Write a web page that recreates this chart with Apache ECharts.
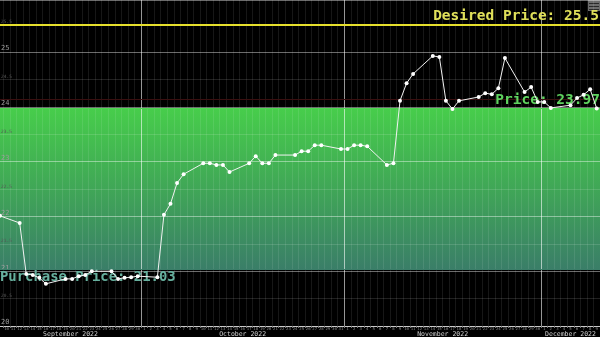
<!DOCTYPE html>
<html>
<head>
<meta charset="utf-8">
<script src="https://cdn.jsdelivr.net/npm/echarts@6/dist/echarts.min.js"></script>
<style>html,body{margin:0;padding:0;background:#000;}#chart{width:600px;height:337px;}</style>
</head>
<body>
<div id="chart"></div>
<script>
// ---- data ----
const dates = [
  '2022-09-09','2022-09-12','2022-09-13','2022-09-14','2022-09-15','2022-09-16',
  '2022-09-19','2022-09-20','2022-09-21','2022-09-22','2022-09-23',
  '2022-09-26','2022-09-27','2022-09-28','2022-09-29','2022-09-30',
  '2022-10-03','2022-10-04','2022-10-05','2022-10-06','2022-10-07',
  '2022-10-10','2022-10-11','2022-10-12','2022-10-13','2022-10-14',
  '2022-10-17','2022-10-18','2022-10-19','2022-10-20','2022-10-21',
  '2022-10-24','2022-10-25','2022-10-26','2022-10-27','2022-10-28',
  '2022-10-31','2022-11-01','2022-11-02','2022-11-03','2022-11-04',
  '2022-11-07','2022-11-08','2022-11-09','2022-11-10','2022-11-11',
  '2022-11-14','2022-11-15','2022-11-16','2022-11-17','2022-11-18',
  '2022-11-21','2022-11-22','2022-11-23','2022-11-24','2022-11-25',
  '2022-11-28','2022-11-29','2022-11-30','2022-12-01','2022-12-02',
  '2022-12-05','2022-12-06','2022-12-07','2022-12-08','2022-12-09'
];
const prices = [
  22.01,21.88,20.95,20.93,20.88,20.77,
  20.86,20.86,20.91,20.93,21.00,
  21.00,20.86,20.88,20.89,20.91,
  20.89,22.03,22.23,22.61,22.77,
  22.97,22.97,22.94,22.94,22.81,
  22.97,23.10,22.97,22.97,23.12,
  23.12,23.19,23.19,23.30,23.30,
  23.23,23.23,23.30,23.30,23.28,
  22.94,22.97,24.11,24.43,24.60,
  24.93,24.91,24.11,23.96,24.11,
  24.18,24.25,24.23,24.34,24.89,
  24.27,24.36,24.09,24.09,23.98,
  24.03,24.16,24.22,24.32,23.97
];
const desiredPrice = 25.5;
const currentPrice = 23.97;
const purchasePrice = 21.03;
const monthLabels = ['September 2022','October 2022','November 2022','December 2022'];
const yMin = 20, yMax = 25.95, yStep = 0.5;

// ---- helpers ----
const mono = '"DejaVu Sans Mono", "Liberation Mono", monospace';
function toTs(s){ const p = s.split('-').map(Number); return new Date(p[0], p[1]-1, p[2], 12).getTime(); }
const xMin = new Date(2022, 8, 9, 12).getTime();
const xMax = new Date(2022, 11, 10, 0).getTime();

const midnights = [], noons = [];
for (let d = new Date(2022, 8, 10); d.getTime() < xMax; d.setDate(d.getDate() + 1)) {
  midnights.push(d.getTime());
  noons.push(new Date(d.getFullYear(), d.getMonth(), d.getDate(), 12).getTime());
}
const monthStarts = [new Date(2022, 9, 1).getTime(), new Date(2022, 10, 1).getTime(), new Date(2022, 11, 1).getTime()];
const spanEdges = [xMin].concat(monthStarts).concat([xMax]);
const monthMids = [];
for (let i = 0; i < spanEdges.length - 1; i++) monthMids.push((spanEdges[i] + spanEdges[i+1]) / 2);

const seriesData = dates.map((d, i) => [toTs(d), prices[i]]);

const chart = echarts.init(document.getElementById('chart'), null, {renderer: 'canvas'});
const option = {
  backgroundColor: '#000',
  animation: false,
  grid: {left: 0, right: 0, top: 0, bottom: 11, containLabel: false, outerBoundsMode: 'none'},
  xAxis: [
    {
      type: 'value', min: xMin, max: xMax, position: 'bottom', z: 3, scale: true,
      axisLine: {show: true, lineStyle: {color: '#c8c8c8', width: 1}},
      axisTick: {show: true, customValues: midnights, length: 2, lineStyle: {color: '#777'}},
      axisLabel: {show: true, customValues: noons, hideOverlap: false,
        formatter: v => String(new Date(v).getDate()),
        fontSize: 4, color: '#8a8a8a', margin: 1, fontFamily: mono},
      splitLine: {show: false}
    },
    {
      type: 'value', min: xMin, max: xMax, position: 'bottom', scale: true,
      axisLine: {show: false}, axisTick: {show: false}, splitLine: {show: false},
      axisLabel: {show: true, customValues: monthMids, hideOverlap: false,
        formatter: v => { let best = 0; monthMids.forEach((m, i) => { if (Math.abs(m - v) < Math.abs(monthMids[best] - v)) best = i; }); return monthLabels[best]; },
        fontSize: 6.5, color: '#cfcfcf', margin: 5, fontFamily: mono}
    }
  ],
  yAxis: {
    type: 'value', min: yMin, max: yMax, interval: yStep, position: 'left', z: 2,
    axisLine: {show: false}, axisTick: {show: false},
    axisLabel: {
      inside: true, margin: 1, verticalAlign: 'bottom', showMaxLabel: false,
      formatter: v => (Math.abs(v - Math.round(v)) < 1e-6 ? '{a|' + v + '}' : '{b|' + v + '}'),
      rich: {a: {fontSize: 7, color: '#9a9a9a', fontFamily: mono}, b: {fontSize: 4.5, color: '#555', fontFamily: mono}}
    },
    splitLine: {show: true, lineStyle: {color: ['rgba(255,255,255,0.42)', 'rgba(255,255,255,0.13)'], width: 1}}
  },
  series: [
    {
      name: 'band', type: 'line', data: [], z: 1, silent: true,
      markArea: {
        silent: true,
        data: [
          [{yAxis: purchasePrice, itemStyle: {color: new echarts.graphic.LinearGradient(0, 0, 0, 1, [
              {offset: 0, color: '#47cd4b'}, {offset: 0.5, color: '#40a657'}, {offset: 1, color: '#3a7e68'}])}},
           {yAxis: currentPrice}]
        ]
      }
    },
    {
      name: 'vgrid', type: 'line', data: [], z: 2.5, silent: true,
      markLine: {
        silent: true, symbol: 'none', label: {show: false}, animation: false,
        data: midnights.map(t => ({xAxis: t, lineStyle: {color: 'rgba(255,255,255,0.09)', width: 1, type: 'solid'}}))
          .concat(monthStarts.map(t => ({xAxis: t, lineStyle: {color: 'rgba(255,255,255,0.55)', width: 1, type: 'solid'}})))
          .concat([{yAxis: 24.13, lineStyle: {color: '#3a0f10', width: 1, type: 'solid'}}])
      }
    },
    {
      name: 'refs', type: 'line', data: [], z: 4, silent: true,
      markLine: {
        silent: true, symbol: 'none', animation: false,
        data: [
          {yAxis: desiredPrice, lineStyle: {color: '#e6df2c', width: 2, type: 'solid'},
           label: {show: true, position: 'insideEndTop', distance: [1, 1], formatter: 'Desired Price: ' + desiredPrice,
             color: '#e0e05a', fontSize: 14.5, fontFamily: mono, fontWeight: 'bold'}},
          {yAxis: currentPrice, lineStyle: {color: '#4fd453', width: 1, type: 'solid'},
           label: {show: true, position: 'insideEndTop', distance: [0, 1], formatter: 'Price: ' + currentPrice,
             color: '#5fd35f', fontSize: 14.5, fontFamily: mono, fontWeight: 'bold'}},
          {yAxis: purchasePrice, lineStyle: {color: '#3a7e68', width: 1, type: 'solid'},
           label: {show: true, position: 'insideStartBottom', distance: [0, 1], formatter: 'Purchase Price: ' + purchasePrice,
             color: '#66b09e', fontSize: 13.9, fontFamily: mono, fontWeight: 'bold'}}
        ]
      }
    },
    {
      name: 'price', type: 'line', data: seriesData, z: 5,
      symbol: 'circle', symbolSize: 4, showAllSymbol: true,
      lineStyle: {color: '#f2f2f2', width: 1},
      itemStyle: {color: '#ffffff'}
    }
  ],
  graphic: [
    {type: 'group', right: 0, top: 0, children: [
      {type: 'rect', shape: {x: 0, y: 0, width: 12, height: 11}, style: {fill: '#6c6c6c'}},
      {type: 'rect', shape: {x: 1, y: 3, width: 10, height: 1}, style: {fill: '#2a2a2a'}},
      {type: 'rect', shape: {x: 1, y: 6, width: 10, height: 1}, style: {fill: '#2a2a2a'}},
      {type: 'rect', shape: {x: 1, y: 9, width: 10, height: 1}, style: {fill: '#2a2a2a'}}
    ]}
  ]
};
chart.setOption(option);
</script>
</body>
</html>
